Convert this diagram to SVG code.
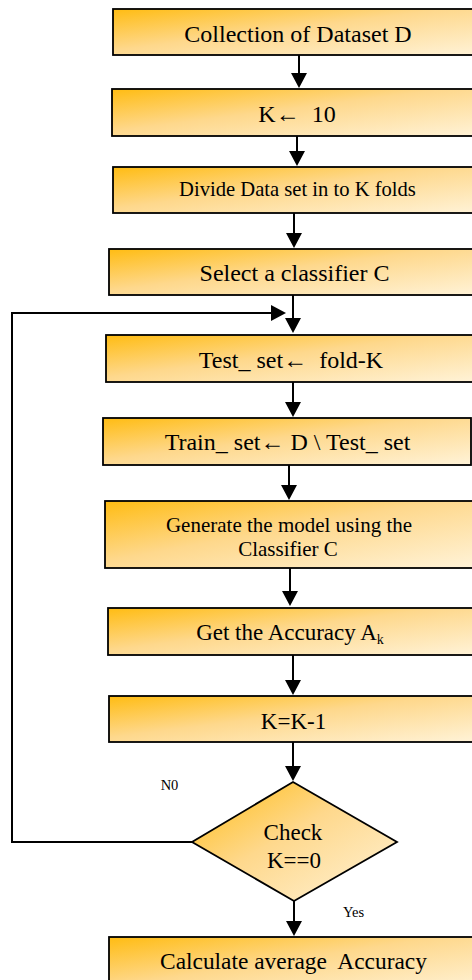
<svg xmlns="http://www.w3.org/2000/svg" width="472" height="980" viewBox="0 0 472 980">
<defs>
<linearGradient id="g" x1="0" y1="0" x2="1" y2="1">
<stop offset="0" stop-color="#FFBC12"/>
<stop offset="0.45" stop-color="#FED88C"/>
<stop offset="1" stop-color="#FFF3D8"/>
</linearGradient>
<marker id="ah" markerUnits="userSpaceOnUse" markerWidth="16" markerHeight="16" refX="1" refY="8" orient="auto">
<path d="M0,0 L15,8 L0,16 Z" fill="#000"/>
</marker>
<style>
.box{fill:url(#g);stroke:#000;stroke-width:1.8}
.t{font-family:"Liberation Serif","Times New Roman",serif;fill:#000;text-anchor:middle;font-size:24px;white-space:pre}
.s{font-family:"Liberation Serif","Times New Roman",serif;fill:#000;font-size:14.5px}
.c{fill:none;stroke:#000;stroke-width:2;marker-end:url(#ah)}
</style>
</defs>
<g id="n1"><rect class="box" x="113" y="9" width="370" height="46"/><text class="t" x="298" y="42">Collection of Dataset D</text></g>
<g id="n2"><rect class="box" x="112" y="89" width="371" height="47"/><text class="t" x="297" y="122">K←  10</text></g>
<g id="n3"><rect class="box" x="113" y="167" width="369" height="46"/><text class="t" x="297.5" y="196" style="font-size:20.6px">Divide Data set in to K folds</text></g>
<g id="n4"><rect class="box" x="109" y="249" width="371" height="46"/><text class="t" x="294.5" y="281">Select a classifier C</text></g>
<g id="n5"><rect class="box" x="106" y="335" width="371" height="47"/><text class="t" x="291" y="368">Test_ set←  fold-K</text></g>
<g id="n6"><rect class="box" x="103" y="418" width="368" height="47"/><text class="t" x="287.5" y="450">Train_ set← D \ Test_ set</text></g>
<g id="n7"><rect class="box" x="105" y="501" width="369" height="67"/><text class="t" x="289" y="532" style="font-size:21px">Generate the model using the</text><text class="t" x="288" y="556" style="font-size:21px">Classifier C</text></g>
<g id="n8"><rect class="box" x="108" y="608" width="370" height="47"/><text class="t" x="290" y="640" style="font-size:23px">Get the Accuracy A<tspan dy="4" style="font-size:14px">k</tspan></text></g>
<g id="n9"><rect class="box" x="109" y="696" width="369" height="46"/><text class="t" x="293.5" y="729" style="font-size:23px">K=K-1</text></g>
<g id="n10"><path class="box" d="M293,782 L397,842 L294,901 L192,842 Z"/><text class="t" x="293" y="840" style="font-size:23px">Check</text><text class="t" x="294" y="868" style="font-size:23px">K==0</text></g>
<g id="n11"><rect class="box" x="109" y="937" width="369" height="55"/><text class="t" x="293.5" y="969" style="font-size:23.4px">Calculate average  Accuracy</text></g>
<g id="connectors">
<line class="c" x1="299" y1="55" x2="299" y2="74"/>
<line class="c" x1="297" y1="136" x2="297" y2="152"/>
<line class="c" x1="294" y1="213" x2="294" y2="234"/>
<line class="c" x1="293" y1="295" x2="293" y2="319"/>
<line class="c" x1="293" y1="382" x2="293" y2="403"/>
<line class="c" x1="289" y1="465" x2="289" y2="486"/>
<line class="c" x1="290" y1="568" x2="290" y2="592"/>
<line class="c" x1="293" y1="655" x2="293" y2="681"/>
<line class="c" x1="293" y1="742" x2="293" y2="767"/>
<line class="c" x1="294" y1="901" x2="294" y2="922"/>
<path class="c" d="M192,842 L12,842 L12,313 L272,313"/>
<text class="s" x="169.5" y="790" text-anchor="middle">N0</text>
<text class="s" x="343" y="917">Yes</text>
</g>
</svg>
